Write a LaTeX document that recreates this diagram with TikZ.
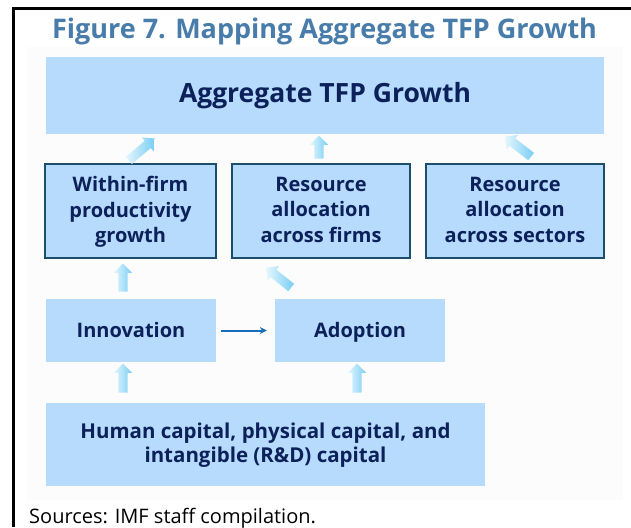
\documentclass[tikz,border=0pt]{standalone}
\usepackage{fontspec}
\setmainfont{Open Sans}
\usetikzlibrary{shapes.arrows,calc,arrows.meta}
\definecolor{titleblue}{RGB}{72,124,170}
\definecolor{navy}{RGB}{12,32,90}
\definecolor{boxfill}{RGB}{183,219,252}
\definecolor{boxline}{RGB}{28,78,108}
\definecolor{thinblue}{RGB}{25,110,185}
\definecolor{arrhead}{RGB}{120,205,245}
\definecolor{arrtail}{RGB}{228,246,253}
\definecolor{bgrey}{RGB}{252,252,252}
\tikzset{
  box/.style={rectangle, fill=boxfill, text=navy, align=center, inner sep=0pt, font=\bfseries\fontsize{20}{25.5}\selectfont},
  framed/.style={box, draw=boxline, line width=2pt, text depth=3pt},
  single/.style={text height=18pt, text depth=4pt},
  barrow/.style={single arrow, draw=none, inner xsep=0pt, inner ysep=4.5pt, single arrow head extend=4.5pt, single arrow head indent=0pt, left color=arrtail, right color=arrhead},
  thinarr/.style={draw=thinblue, line width=2pt, -{Stealth[length=7pt,width=7pt]}}
}
\newcommand{\blockarrow}[2]{%
  \path let \p1=($(#2)-(#1)$), \n1={atan2(\y1,\x1)}, \n2={veclen(\x1,\y1)} in
    node[barrow, rotate=\n1, minimum height=\n2] at ($(#1)!0.5!(#2)$) {};}
\begin{document}
\begin{tikzpicture}[x=1pt,y=-1pt]
\useasboundingbox (0,0) rectangle (631,527);
\fill[white] (0,0) rectangle (631,527);
\fill[bgrey] (27,47) rectangle (623,500);
\draw[line width=2.6pt] (13.5,527) -- (13.5,8.7) -- (631,8.7);
\node[text=titleblue, font=\bfseries\fontsize{27}{30}\selectfont, anchor=base] (title) at (324.5,39) {Figure 7. Mapping Aggregate TFP Growth};
\node[box, minimum width=558pt, minimum height=77pt, font=\bfseries\fontsize{26.5}{30}\selectfont] (agg) at (325,95.5) {Aggregate TFP Growth};
\node[framed, minimum width=171pt, minimum height=94pt] (wf) at (130.5,211) {Within-firm\\productivity\\growth};
\node[framed, minimum width=178pt, minimum height=94pt] (rf) at (321,211) {Resource\\allocation\\across firms};
\node[framed, minimum width=178pt, minimum height=94pt] (rs) at (515,211) {Resource\\allocation\\across sectors};
\node[box, single, minimum width=170pt, minimum height=63pt] (inn) at (131,330.5) {Innovation};
\node[box, single, minimum width=170pt, minimum height=63pt] (ad) at (360,330.5) {Adoption};
\node[box, minimum width=439pt, minimum height=83pt, text depth=3pt, font=\bfseries\fontsize{20.5}{24}\selectfont] (hc) at (265.5,444.5) {Human capital, physical capital, and\\intangible (R\&D) capital};
\node[anchor=base west, inner sep=0pt, font=\fontsize{20}{22}\selectfont] (src) at (29,523) {Sources: IMF staff compilation.};
% block arrows
\coordinate (a1t) at (127,162); \coordinate (a1h) at (153,140);
\coordinate (a2t) at (319,161); \coordinate (a2h) at (319,138);
\coordinate (a3t) at (533,158); \coordinate (a3h) at (507,138);
\coordinate (a4t) at (123,294); \coordinate (a4h) at (123,266);
\coordinate (a5t) at (123,395); \coordinate (a5h) at (123,366);
\coordinate (a6t) at (357,395); \coordinate (a6h) at (357,366);
\coordinate (a7t) at (293,289); \coordinate (a7h) at (268,269);
\blockarrow{a1t}{a1h}
\blockarrow{a2t}{a2h}
\blockarrow{a3t}{a3h}
\blockarrow{a4t}{a4h}
\blockarrow{a5t}{a5h}
\blockarrow{a6t}{a6h}
\blockarrow{a7t}{a7h}
\draw[thinarr, shorten <=5pt, shorten >=8pt] (inn) -- (ad);
\end{tikzpicture}
\end{document}
